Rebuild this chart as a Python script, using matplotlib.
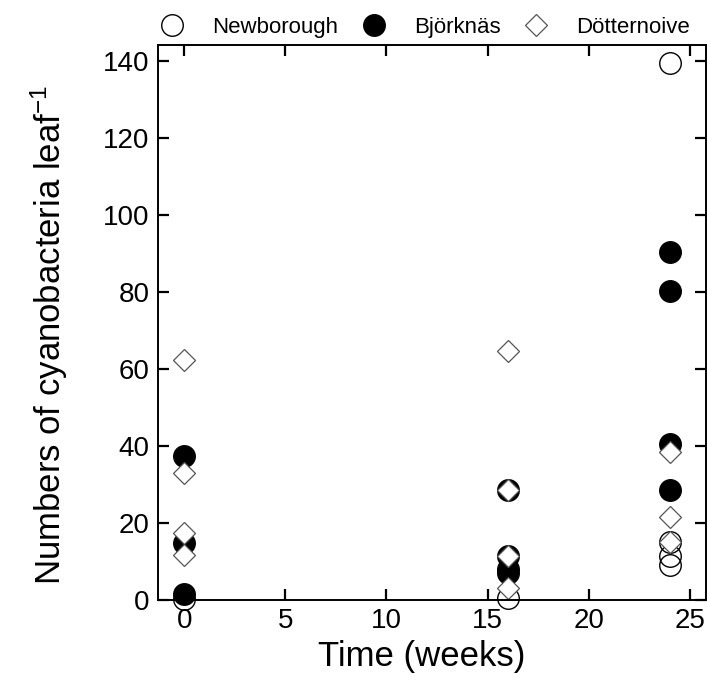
import matplotlib
matplotlib.use("Agg")
import matplotlib.pyplot as plt

plt.rcParams['font.family'] = ['Liberation Sans', 'DejaVu Sans']
plt.rcParams['mathtext.default'] = 'regular'

# Werte (Zeit in Wochen)
newborough_t = [0, 16, 24, 24, 24, 24]
newborough_n = [0.3, 0.5, 139.5, 15, 11.5, 9]

bjorknas_t = [0, 0, 0, 16, 16, 16, 16, 24, 24, 24, 24]
bjorknas_n = [37.5, 14.8, 1.5, 28.5, 11.5, 8, 7, 90.5, 80.3, 40.5, 28.5]

dotternoive_t = [0, 0, 0, 0, 16, 16, 16, 16, 24, 24, 24]
dotternoive_n = [62.3, 33, 17.5, 11.8, 64.8, 28.5, 11.5, 3, 38.5, 21.5, 15]

xticks = [0, 5, 10, 15, 20, 25]
yticks = [0, 20, 40, 60, 80, 100, 120, 140]

fig = plt.figure(figsize=(7.07, 6.92), dpi=100)
ax = fig.add_axes([0.2235, 0.133, 0.775, 0.802])

ax.plot(newborough_t, newborough_n, 'o', ms=15.5, mfc='none', mec='black', mew=1.0,
        ls='none', label='Newborough', clip_on=False)
ax.plot(bjorknas_t, bjorknas_n, 'o', ms=15.5, mfc='black', mec='black', mew=1.0,
        ls='none', label='Björknäs', clip_on=False)
ax.plot(dotternoive_t, dotternoive_n, 'D', ms=11, mfc='white', mec='#555555', mew=0.9,
        ls='none', label='Dötternoive', clip_on=False)

ax.set_xlim(-1.3, 25.8)
ax.set_ylim(0, 144.2)
ax.set_xticks(xticks)
ax.set_yticks(yticks)

for s in ax.spines.values():
    s.set_linewidth(1.4)
ax.tick_params(direction='in', length=8, width=1.6, top=True, right=True,
               labelsize=20)
ax.tick_params(axis='x', pad=6)
ax.tick_params(axis='y', pad=6)

ax.set_xlabel('Time (weeks)', fontsize=25, labelpad=4, x=0.482)
ax.set_ylabel('Numbers of cyanobacteria leaf$^{-1}$', fontsize=25, labelpad=24, y=0.477)

fig.legend(loc='center', bbox_to_anchor=(0.602, 0.96), ncol=3, frameon=False,
           fontsize=16, handlelength=1.0, handletextpad=1.3, columnspacing=1.1,
           borderaxespad=0.0, borderpad=0.0)

fig.savefig('out.png', dpi=100)
